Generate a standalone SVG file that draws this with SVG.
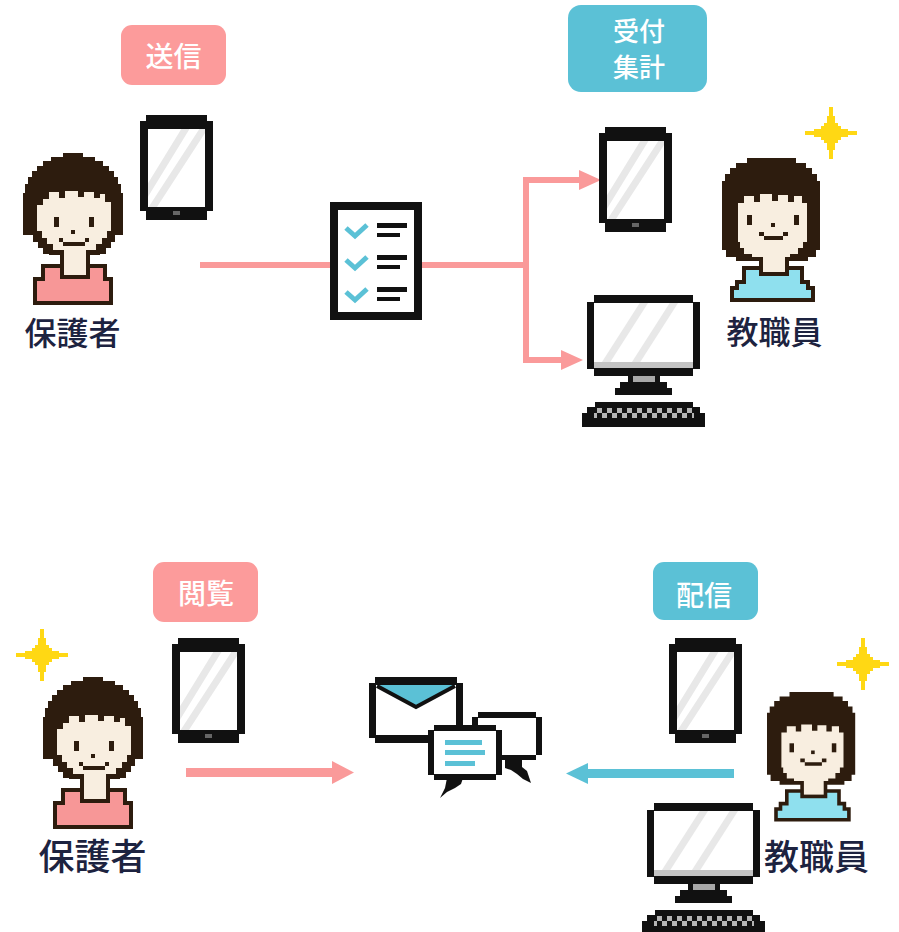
<svg xmlns="http://www.w3.org/2000/svg" width="899" height="932" viewBox="0 0 899 932">
  <style>
    .tag { font-family: "Noto Sans CJK JP", "Noto Sans CJK SC", sans-serif; font-size: 28px; font-weight: 500; fill: #ffffff; text-anchor: middle; }
    .tag2 { font-size: 26px; }
    .role { font-family: "Noto Sans CJK JP", "Noto Sans CJK SC", sans-serif; font-weight: 500; fill: #1d2340; text-anchor: middle; }
    .pinkbox { fill: #fc9b9b; }
    .bluebox { fill: #5bc1d6; }
    .ink { fill: #111111; }
    .hair { fill: #2d1c0e; }
    .skin { fill: #f8eee0; }
    .stripe { stroke: #e8e8e8; stroke-width: 7; fill: none; }
    .spark { fill: #ffd814; }
  </style>
  <defs>
    <clipPath id="tabletScreen"><rect x="8" y="14" width="57" height="78"/></clipPath>
    <clipPath id="monitorScreen"><rect x="7" y="8" width="99" height="59"/></clipPath>
    <pattern id="keys" width="10" height="10" y="3" patternUnits="userSpaceOnUse">
      <rect width="5" height="5" fill="#b5b5b5"/>
      <rect x="5" y="5" width="5" height="5" fill="#b5b5b5"/>
    </pattern>

    <!-- pixel tablet, 73 x 105 -->
    <g id="tablet-art">
      <path class="ink" d="M6,0H67V6H73V96H67V105H6V96H0V6H6Z"/>
      <rect x="8" y="14" width="57" height="78" fill="#ffffff"/>
      <g clip-path="url(#tabletScreen)">
        <line class="stripe" x1="0" y1="88" x2="54" y2="0"/>
        <line class="stripe" x1="5" y1="104" x2="70" y2="4"/>
      </g>
      <rect x="33" y="96" width="7" height="4" fill="#666666"/>
    </g>

    <!-- pixel desktop computer, 113 x 132 -->
    <g id="monitor-art">
      <path class="ink" d="M7,0H106V7H113V74H106V81H7V74H0V7H7Z"/>
      <rect x="7" y="8" width="99" height="59" fill="#ffffff"/>
      <g clip-path="url(#monitorScreen)">
        <line class="stripe" x1="14" y1="75" x2="62" y2="0"/>
        <line class="stripe" x1="44" y1="75" x2="92" y2="0"/>
      </g>
      <rect x="7" y="67" width="99" height="6" fill="#c4c4c4"/>
      <rect x="41" y="81" width="32" height="9" class="ink"/>
      <rect x="46" y="81" width="22" height="6" fill="#a8a8a8"/>
      <path class="ink" d="M33,87H80V93H85V100H28V93H33Z"/>
      <path class="ink" d="M8,107H106V112H113V118H118V132H-5V118H0V112H8Z"/>
      <rect x="7" y="113" width="100" height="10" fill="url(#keys)"/>
    </g>

    <!-- pixel guardian, 100 x 152 -->
    <g id="guardian-art">
      <path class="hair" d="M40,0H60V4H72V8H80V13H86V18H91V24H95V31H98V40H100V82H92V89H88V95H83V101H77V102H26V101H20V95H15V89H10V82H0V40H2V31H5V24H9V18H14V13H20V8H28V4H40Z"/>
      <path class="skin" d="M20,46H26V39H36V45H42V38H55V44H61V39H71V45H77V41H82V49H88V78H84V85H79V91H73V97H30V91H24V85H19V78H14V52H20Z"/>
      <rect x="31" y="64" width="5" height="10" class="hair"/>
      <rect x="66" y="64" width="5" height="10" class="hair"/>
      <rect x="48" y="77" width="4" height="4" class="hair"/>
      <path class="hair" d="M36,85H40V89H62V85H66V89H62V93H40V89H36Z"/>
      <path class="hair" d="M18,111H37V97H67V111H84V124H90V152H10V124H18Z"/>
      <rect x="41" y="96" width="22" height="26" class="skin"/>
      <path fill="#f79797" d="M22,115H37V126H67V115H80V128H86V148H14V128H22Z"/>
    </g>

    <!-- pixel staff member, 98 x 144 -->
    <g id="staff-art">
      <path class="hair" d="M25,0H74V5H84V10H90V16H95V23H98V92H94V99H86V103H14V99H4V92H0V23H3V16H8V10H14V5H25Z"/>
      <path class="skin" d="M16,45H22V38H32V44H38V36H50V43H56V37H66V44H72V38H80V45H85V84H81V90H76V96H68V99H30V96H22V90H18V84H16Z"/>
      <rect x="25" y="57" width="5" height="10" class="hair"/>
      <rect x="72" y="57" width="5" height="10" class="hair"/>
      <rect x="49" y="65" width="4" height="4" class="hair"/>
      <path class="hair" d="M37,74H42V78H61V74H66V78H61V82H42V78H37Z"/>
      <path class="hair" d="M20,108H37V99H67V108H82V122H88V128H93V144H8V128H13V122H20Z"/>
      <rect x="41" y="98" width="22" height="16" class="skin"/>
      <path fill="#8fe0ee" d="M24,112H37V118H67V112H78V126H84V132H89V140H12V132H17V126H24Z"/>
    </g>

    <!-- four-point pixel sparkle centred on 0,0 -->
    <g id="sparkle-art" class="spark">
      <rect x="-2" y="-26" width="4" height="52"/>
      <rect x="-26" y="-2" width="52" height="4"/>
      <rect x="-4" y="-17" width="8" height="34"/>
      <rect x="-17" y="-4" width="34" height="8"/>
      <rect x="-7" y="-10" width="14" height="20"/>
      <rect x="-10" y="-7" width="20" height="14"/>
    </g>
  </defs>

  <rect width="899" height="932" fill="#ffffff"/>

  <!-- connectors -->
  <g id="connectors">
    <g fill="none" stroke="#fa9a9a" stroke-width="6">
      <path d="M200,265H330"/>
      <path d="M422,265H526"/>
      <path d="M582,180H526V360H564"/>
    </g>
    <polygon points="579,170 601,180 579,190" fill="#fa9a9a"/>
    <polygon points="561,350 583,360 561,370" fill="#fa9a9a"/>
    <path d="M186,772.5H334" stroke="#fa9a9a" stroke-width="9" fill="none"/>
    <polygon points="332,761 354,772.5 332,784" fill="#fa9a9a"/>
    <path d="M734,773.5H586" stroke="#5bc1d6" stroke-width="9" fill="none"/>
    <polygon points="588,763 566,773.5 588,784" fill="#5bc1d6"/>
  </g>

  <!-- top row: guardian sends a form -->
  <g id="label-send">
    <rect class="pinkbox" x="121" y="25" width="105" height="60" rx="11"/>
    <text class="tag" x="173.5" y="67">送信</text>
  </g>
  <g id="guardian-top">
    <use href="#guardian-art" transform="translate(23,153)"/>
    <text class="role" x="72.5" y="345" font-size="32">保護者</text>
  </g>
  <g id="tablet-guardian-top"><use href="#tablet-art" transform="translate(140,115)"/></g>

  <g id="checklist">
    <rect x="330" y="202" width="92" height="118" class="ink"/>
    <rect x="338" y="210" width="76" height="102" fill="#ffffff"/>
    <g fill="none" stroke="#5bc1d6" stroke-width="5">
      <polyline points="346,228 355,236 367,225"/>
      <polyline points="346,260 355,268 367,257"/>
      <polyline points="346,292 355,300 367,289"/>
    </g>
    <g class="ink">
      <rect x="377" y="223" width="30" height="5"/>
      <rect x="377" y="233" width="23" height="4"/>
      <rect x="377" y="255" width="30" height="5"/>
      <rect x="377" y="265" width="23" height="4"/>
      <rect x="377" y="287" width="30" height="5"/>
      <rect x="377" y="297" width="23" height="4"/>
    </g>
  </g>

  <g id="label-receive">
    <rect class="bluebox" x="568" y="5" width="139" height="87" rx="13"/>
    <text class="tag tag2" x="639" y="41">受付</text>
    <text class="tag tag2" x="639" y="77">集計</text>
  </g>
  <g id="tablet-staff-top"><use href="#tablet-art" transform="translate(599,127)"/></g>
  <g id="computer-staff-top"><use href="#monitor-art" transform="translate(587,295)"/></g>
  <g id="staff-top">
    <use href="#staff-art" transform="translate(722,158)"/>
    <use href="#sparkle-art" transform="translate(831,133)"/>
    <text class="role" x="774.5" y="344" font-size="32">教職員</text>
  </g>

  <!-- bottom row: staff distribute, guardian reads -->
  <g id="label-read">
    <rect class="pinkbox" x="153" y="562" width="105" height="60" rx="11"/>
    <text class="tag" x="206" y="604">閲覧</text>
  </g>
  <g id="guardian-bottom">
    <use href="#sparkle-art" transform="translate(42,655)"/>
    <use href="#guardian-art" transform="translate(43,677)"/>
    <text class="role" x="92.5" y="870" font-size="36">保護者</text>
  </g>
  <g id="tablet-guardian-bottom"><use href="#tablet-art" transform="translate(172,638)"/></g>

  <g id="messages">
    <!-- envelope -->
    <path class="ink" d="M375,677H457V683H463V738H457V743H375V738H369V683H375Z"/>
    <rect x="376" y="685" width="80" height="50" fill="#ffffff"/>
    <polygon points="377,685 455,685 416,706" fill="#5bc1d6"/>
    <polyline points="377,686 416,707 455,686" fill="none" stroke="#111111" stroke-width="4"/>
    <!-- rear speech bubble -->
    <path class="ink" d="M478,712H536V717H542V755H536V760H478V755H472V717H478Z"/>
    <rect x="478" y="718" width="58" height="37" fill="#ffffff"/>
    <polygon class="ink" points="505,758 522,758 522,767 527,771 531,783 523,779 517,774 511,770 505,768"/>
    <!-- front speech bubble -->
    <path class="ink" d="M434,725H496V730H502V775H496V780H434V775H428V730H434Z"/>
    <rect x="434" y="731" width="62" height="43" fill="#ffffff"/>
    <polygon class="ink" points="463,778 447,778 445,788 440,798 447,792 455,788 461,784"/>
    <g fill="#5bc1d6">
      <rect x="445" y="740" width="37" height="5"/>
      <rect x="445" y="750" width="40" height="5"/>
      <rect x="445" y="761" width="30" height="5"/>
    </g>
  </g>

  <g id="label-deliver">
    <rect class="bluebox" x="653" y="562" width="105" height="58" rx="11"/>
    <text class="tag" x="704" y="606">配信</text>
  </g>
  <g id="tablet-staff-bottom"><use href="#tablet-art" transform="translate(669,638)"/></g>
  <g id="computer-staff-bottom"><use href="#monitor-art" transform="translate(647,803)"/></g>
  <g id="staff-bottom">
    <use href="#staff-art" transform="translate(767,692) scale(0.9)"/>
    <use href="#sparkle-art" transform="translate(863,664)"/>
    <text class="role" x="816.5" y="870" font-size="35">教職員</text>
  </g>
</svg>
